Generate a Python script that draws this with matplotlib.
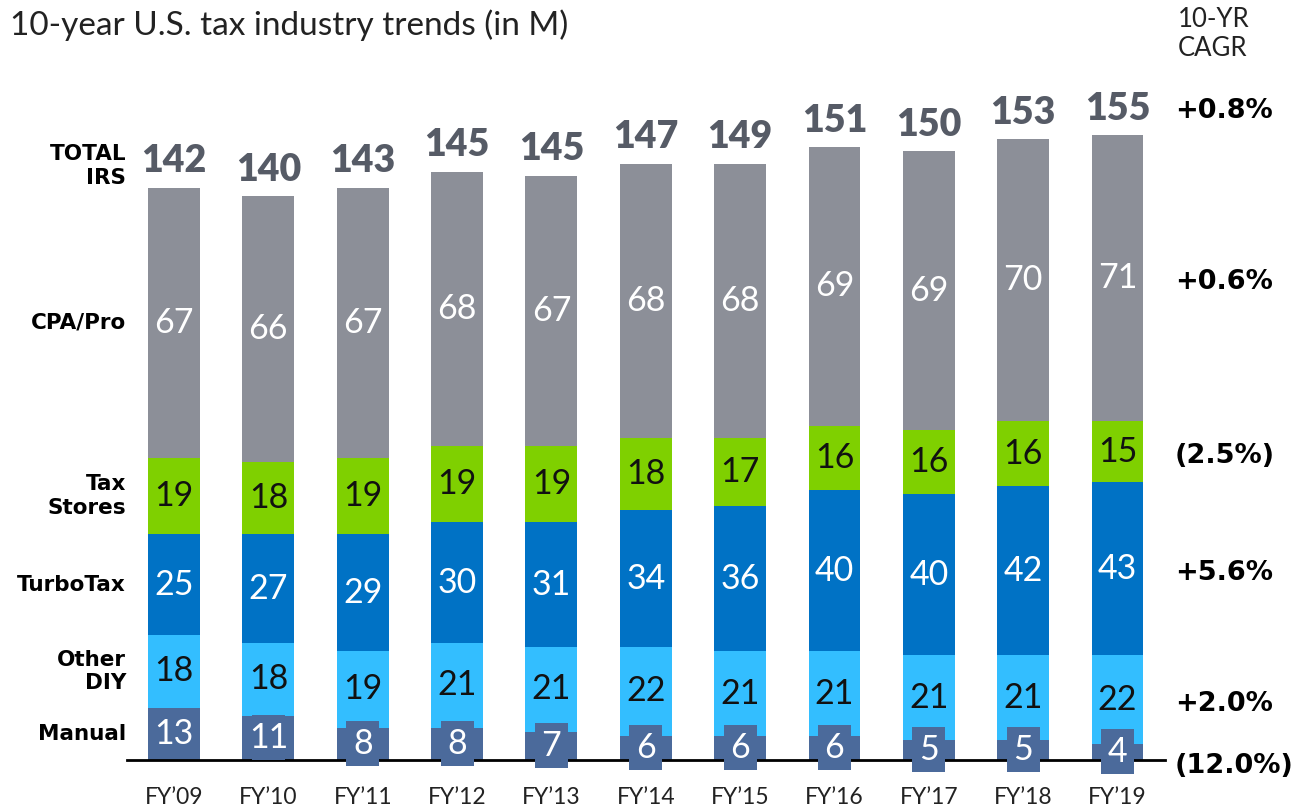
import matplotlib
matplotlib.use('Agg')
import matplotlib.pyplot as plt
from matplotlib.patches import Rectangle
import numpy as np

# data
years = ["FY\u201909", "FY\u201910", "FY\u201911", "FY\u201912", "FY\u201913", "FY\u201914",
         "FY\u201915", "FY\u201916", "FY\u201917", "FY\u201918", "FY\u201919"]
manual = [13, 11, 8, 8, 7, 6, 6, 6, 5, 5, 4]
other_diy = [18, 18, 19, 21, 21, 22, 21, 21, 21, 21, 22]
turbotax = [25, 27, 29, 30, 31, 34, 36, 40, 40, 42, 43]
tax_stores = [19, 18, 19, 19, 19, 18, 17, 16, 16, 16, 15]
cpa_pro = [67, 66, 67, 68, 67, 68, 68, 69, 69, 70, 71]
totals = [142, 140, 143, 145, 145, 147, 149, 151, 150, 153, 155]

segment_names = ["Manual", "Other\nDIY", "TurboTax", "Tax\nStores", "CPA/Pro"]
cagr = ["(12.0%)", "+2.0%", "+5.6%", "(2.5%)", "+0.6%"]
total_cagr = "+0.8%"

colors = ["#4B6A9B", "#33BEFF", "#0072C5", "#7FD000", "#8C8F98"]
text_colors = ["white", "#111111", "white", "#111111", "white"]

REG = dict(family="Lato", weight="normal")
HEAVY = dict(family="DejaVu Sans", weight="bold")

W, H = 1304, 809
fig = plt.figure(figsize=(W / 100, H / 100), dpi=100)
ax = fig.add_axes([0, 0, 1, 1])
ax.set_axis_off()

# pixel layout -> data units
x0, dx = 174, 94.35      # centre of first bar, bar spacing (px)
base, py = 760, 4.03     # baseline (px), px per million
ax.set_xlim(-x0 / dx, (W - x0) / dx)
ax.set_ylim((base - H) / py, base / py)

series = [manual, other_diy, turbotax, tax_stores, cpa_pro]
x = np.arange(len(years))
bw = 0.55
bottom = np.zeros(len(years))
mids = []
for k, vals in enumerate(series):
    vals = np.array(vals, dtype=float)
    ax.bar(x, vals, bw, bottom=bottom, color=colors[k], linewidth=0, zorder=2)
    mid = bottom + vals / 2
    mids.append(mid)
    for i in range(len(years)):
        if k == 0:
            # little boxes behind the manual numbers (they overflow the bar)
            bx, bh = 33 / dx, 45 / py
            ax.add_patch(Rectangle((x[i] - bx / 2, mid[i] - bh / 2), bx, bh,
                                   facecolor=colors[0], edgecolor='none', zorder=4))
        ax.text(x[i], mid[i], str(int(vals[i])), ha='center', va='center',
                fontsize=24.5, color=text_colors[k], zorder=5, **REG)
    bottom = bottom + vals

# baseline
ax.plot([(127 - x0) / dx, (1165 - x0) / dx], [0, 0], color='black', lw=2, zorder=3)

# totals above bars
for i in range(len(years)):
    ax.annotate(str(totals[i]), (x[i], bottom[i]), xytext=(0, 11),
                textcoords='offset points', ha='center', va='baseline',
                fontsize=27, color="#565B66", family="Lato", weight="heavy")

# year labels
for i in range(len(years)):
    ax.text(x[i], (base - 798) / py, years[i], ha='center', va='center',
            fontsize=16.5, color="#222222", **REG)

# row labels on the left, level with the first bar's segments
lx = (126 - x0) / dx
for k, name in enumerate(segment_names):
    ax.text(lx, mids[k][0], name, ha='right', va='center', fontsize=15.5,
            linespacing=1.2, color='black', **HEAVY)
ax.text(lx, (base - 166) / py, "TOTAL\nIRS", ha='right', va='center', fontsize=15.5,
        linespacing=1.2, color='black', **HEAVY)

# CAGR column on the right, level with the last bar's segments
rx = (1175 - x0) / dx
for k, txt in enumerate(cagr):
    yy = mids[k][-1] - 1 if k > 0 else -1.5
    ax.text(rx, yy, txt, ha='left', va='center', fontsize=19.5,
            color='black', **HEAVY)
ax.text(rx, bottom[-1] + 6, total_cagr, ha='left', va='center', fontsize=19.5,
        color='black', **HEAVY)

fig.text(1178 / W, 1 - 7 / H, "10-YR\nCAGR", ha='left', va='top', fontsize=18.5,
         linespacing=1.22, color="#222222", **REG)
fig.text(10 / W, 1 - 25 / H, "10-year U.S. tax industry trends (in M)", ha='left',
         va='center', fontsize=24, color="#222222", **REG)

fig.savefig("out.png", dpi=100)
